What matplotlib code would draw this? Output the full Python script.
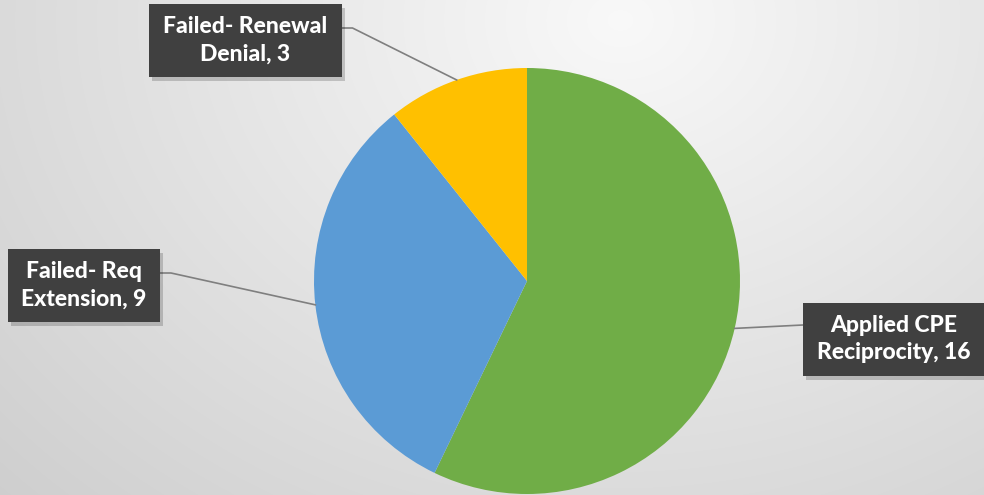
import numpy as np
import matplotlib
matplotlib.use('Agg')
import matplotlib.pyplot as plt
from matplotlib.patches import Rectangle

# chart data
labels = ['Applied CPE\nReciprocity', 'Failed- Req\nExtension', 'Failed- Renewal\nDenial']
values = [16, 9, 3]
colors = ['#70AD47', '#5B9BD5', '#FFC000']

# label box centres in pixels (y measured from the top)
box_centres = [(894, 339), (84, 285), (245, 40)]
box_sizes = [(182, 73), (152, 73), (193, 73)]

W, H = 984, 495
fig = plt.figure(figsize=(W / 100, H / 100), dpi=100)
ax = fig.add_axes([0, 0, 1, 1])

# soft radial grey background
xx, yy = np.meshgrid(np.arange(W), np.arange(H))
d = np.sqrt(((xx - 620) * 0.8) ** 2 + (yy - 20) ** 2)
v = np.clip(0.975 - 0.00024 * d, 0.78, 1)
ax.imshow(np.dstack([v, v, v]), extent=[0, W, 0, H], origin='upper', zorder=0, aspect='auto')

cx, cy, r = 527, H - 281, 213
wedges, _ = ax.pie(values, colors=colors, startangle=90, counterclock=False,
                   center=(cx, cy), radius=r, frame=True,
                   wedgeprops=dict(linewidth=0))
ax.set_xlim(0, W)
ax.set_ylim(0, H)
ax.axis('off')
for w in wedges:
    w.set_zorder(2)

for w, lab, val, (bx, by), (bw, bh) in zip(wedges, labels, values, box_centres, box_sizes):
    ang = np.deg2rad((w.theta1 + w.theta2) / 2)
    px, py = cx + r * np.cos(ang), cy + r * np.sin(ang)
    by = H - by
    # leader line from the box edge to the wedge
    if bx < cx:
        ex = bx + bw / 2
        ax.plot([px, ex + 11, ex], [py, by + 12, by + 12], color='#7f7f7f', lw=1.2, zorder=3)
    else:
        ex = bx - bw / 2
        ax.plot([px, ex], [py, by + 14], color='#7f7f7f', lw=1.2, zorder=3)
    # shadow and box
    ax.add_patch(Rectangle((bx - bw / 2 + 3, by - bh / 2 - 4), bw, bh,
                           color='#000000', alpha=0.18, lw=0, zorder=3))
    ax.add_patch(Rectangle((bx - bw / 2, by - bh / 2), bw, bh,
                           color='#404040', lw=0, zorder=4))
    ax.text(bx, by, f'{lab}, {val}', ha='center', va='center', color='white',
            fontsize=16.5, fontweight='black', family='Lato', linespacing=1.4, zorder=5)

fig.savefig('out.png', dpi=100)
